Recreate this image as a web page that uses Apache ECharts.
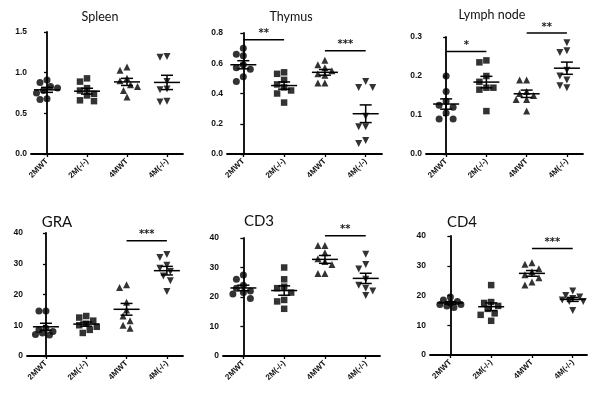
<!DOCTYPE html>
<html>
<head>
<meta charset="utf-8">
<script src="https://cdn.jsdelivr.net/npm/echarts@6/dist/echarts.min.js"></script>
<style>
html,body{margin:0;padding:0;background:#fff;}
#main{width:600px;height:398px;}
</style>
</head>
<body>
<div id="main"></div>
<script>
// groups on the x axis
var groups = ['2MWT', '2M(-/-)', '4MWT', '4M(-/-)'];
var titles = ['Spleen', 'Thymus', 'Lymph node', 'GRA', 'CD3', 'CD4'];

// values per group
var spleen = [
	[0.91, 0.88, 0.83, 0.81, 0.78, 0.75, 0.68, 0.67],
	[0.93, 0.89, 0.81, 0.78, 0.74, 0.72, 0.66, 0.65],
	[1.07, 1.03, 0.93, 0.90, 0.85, 0.83, 0.78, 0.70],
	[1.20, 1.19, 0.89, 0.80, 0.79, 0.64, 0.65]
];
var thymus = [
	[0.70, 0.66, 0.65, 0.59, 0.57, 0.56, 0.51, 0.48],
	[0.54, 0.53, 0.49, 0.46, 0.44, 0.42, 0.40, 0.34],
	[0.62, 0.59, 0.57, 0.55, 0.53, 0.52, 0.47, 0.47],
	[0.48, 0.44, 0.44, 0.25, 0.18, 0.18, 0.09, 0.07]
];
var lymph = [
	[0.20, 0.16, 0.135, 0.125, 0.12, 0.105, 0.09, 0.09],
	[0.24, 0.235, 0.20, 0.185, 0.17, 0.165, 0.17, 0.11],
	[0.19, 0.19, 0.16, 0.155, 0.15, 0.14, 0.14, 0.11],
	[0.285, 0.265, 0.26, 0.215, 0.20, 0.19, 0.175, 0.17]
];
var gra = [
	[14.6, 14.6, 9.0, 8.5, 8.0, 7.5, 7.0, 6.8],
	[13, 12.5, 11.5, 10.5, 10, 9.5, 8.5, 7.5],
	[23.2, 22.3, 17.5, 15, 13, 11.5, 10, 9],
	[33, 32, 29.5, 28.5, 27.5, 26, 24.5, 21]
];
var cd3 = [
	[27.5, 26, 24, 23, 22, 21.5, 21, 19.5],
	[30, 26, 23.5, 23, 21.5, 19, 18.5, 16],
	[37.5, 37.5, 35, 33, 32, 31, 28, 28],
	[34.5, 31, 29.5, 26, 24, 23, 22, 20.5]
];
var cd4 = [
	[19.5, 18.5, 18, 17.5, 17, 17, 16.5, 16],
	[23.5, 17.8, 17.5, 16.5, 15.5, 14, 13.5, 11.5],
	[31, 30.5, 29, 28, 27, 26, 24.5, 23.5],
	[21.5, 20, 19.5, 19, 18.5, 18, 18, 15]
];

// significance bars: [from group, to group, height, stars]
var sigSpleen = [];
var sigThymus = [[0, 1, 0.755, '**'], [2, 3, 0.683, '***']];
var sigLymph = [[0, 1, 0.263, '*'], [2, 3, 0.31, '**']];
var sigGra = [[2, 3, 37.5, '***']];
var sigCd3 = [[2, 3, 40.8, '**']];
var sigCd4 = [[2, 3, 35.8, '***']];

// y axis: max, step, decimals
var yMax = [1.5, 0.8, 0.3, 40, 40, 40];
var yStep = [0.5, 0.2, 0.1, 10, 10, 10];
var yDec = [1, 1, 1, 0, 0, 0];

var allData = [spleen, thymus, lymph, gra, cd3, cd4];
var allSig = [sigSpleen, sigThymus, sigLymph, sigGra, sigCd3, sigCd4];

// layout of each panel (pixels)
var layout = [
	{left: 31, top: 32, width: 152, height: 122, xMin: -0.4, xMax: 3.4, tx: 100, ty: 17, fs: 12.5},
	{left: 227, top: 33, width: 155, height: 121, xMin: -0.4, xMax: 3.4, tx: 291, ty: 17, fs: 12.5},
	{left: 426, top: 37, width: 157, height: 117, xMin: -0.5, xMax: 3.4, tx: 492, ty: 15, fs: 12.5},
	{left: 27, top: 233, width: 156, height: 123, xMin: -0.47, xMax: 3.4, tx: 57, ty: 222, fs: 15},
	{left: 223, top: 238, width: 157, height: 118, xMin: -0.5, xMax: 3.35, tx: 259, ty: 221, fs: 15},
	{left: 430, top: 236, width: 157, height: 119, xMin: -0.5, xMax: 3.35, tx: 462, ty: 222, fs: 15}
];

var symbols = ['circle', 'rect', 'triangle', 'triangle'];
var symRot = [0, 0, 0, 180];
var symSize = [7, 6.5, 7, 7];

function mean(a){
	var s = 0;
	for(var i=0;i<a.length;i++) s += a[i];
	return s / a.length;
}
function sem(a){
	var m = mean(a), s = 0;
	for(var i=0;i<a.length;i++) s += (a[i]-m)*(a[i]-m);
	return Math.sqrt(s/(a.length-1)) / Math.sqrt(a.length);
}
// simple beeswarm so points with close values spread sideways
function swarm(vals, pxY, pxX){
	var order = vals.map(function(v, i){ return i; }).sort(function(a, b){ return vals[b]-vals[a]; });
	var placed = [], offs = [];
	var cands = [0, -1, 1, -2, 2, -3, 3];
	order.forEach(function(i){
		var y = vals[i]*pxY, x = 0, best = 0, bestD = -1;
		for(var c=0;c<cands.length;c++){
			x = cands[c]*3.5;
			var d = placed.reduce(function(m, p){
				return Math.min(m, Math.sqrt((p[0]-x)*(p[0]-x)+(p[1]-y)*(p[1]-y)));
			}, 99);
			if(d >= 7){ best = x; bestD = d; break; }
			if(d > bestD){ best = x; bestD = d; }
		}
		placed.push([best, y]);
		offs[i] = best / pxX;
	});
	return offs;
}

var grids = [], xAxes = [], yAxes = [], series = [], graphics = [];

layout.forEach(function(L, p){
	grids.push({left: L.left, top: L.top, width: L.width, height: L.height});
	xAxes.push({
		type: 'value', gridIndex: p, min: L.xMin, max: L.xMax,
		splitLine: {show: false},
		axisLine: {show: true, lineStyle: {color: '#000', width: 1.8}},
		axisTick: {show: true, length: 3, customValues: [0, 1, 2, 3], lineStyle: {color: '#000', width: 1.3}},
		axisLabel: {
			customValues: [0, 1, 2, 3], rotate: 45, margin: 6,
			fontSize: 8, fontFamily: 'Liberation Sans', fontWeight: 'bold', color: '#111',
			formatter: function(v){ return groups[Math.round(v)]; }
		}
	});
	yAxes.push({
		type: 'value', gridIndex: p, min: 0, max: yMax[p], interval: yStep[p],
		splitLine: {show: false},
		axisLine: {show: true, lineStyle: {color: '#000', width: 1.8}},
		axisTick: {show: true, length: 3, lineStyle: {color: '#000', width: 1.3}},
		axisLabel: {
			margin: 4, fontSize: 8.5, fontFamily: 'Liberation Sans', fontWeight: 'bold', color: '#111',
			formatter: function(v){ return v.toFixed(yDec[p]); }
		}
	});

	var data = allData[p];
	var pxY = L.height / yMax[p];
	var pxX = L.width / (L.xMax - L.xMin);
	var bars = [];
	data.forEach(function(vals, g){
		var offs = swarm(vals, pxY, pxX);
		series.push({
			type: 'scatter', xAxisIndex: p, yAxisIndex: p,
			symbol: symbols[g], symbolRotate: symRot[g], symbolSize: symSize[g],
			itemStyle: {color: '#000'},
			silent: true,
			data: vals.map(function(v, i){ return [g + offs[i], v]; })
		});
		bars.push([g, mean(vals), sem(vals)]);
	});

	// mean +/- SEM
	series.push({
		type: 'custom', xAxisIndex: p, yAxisIndex: p, silent: true, z: 5,
		data: bars,
		renderItem: function(params, api){
			var c = api.coord([api.value(0), api.value(1)]);
			var t = api.coord([api.value(0), api.value(1) + api.value(2)]);
			var b = api.coord([api.value(0), api.value(1) - api.value(2)]);
			var st = {stroke: '#000', lineWidth: 1.5};
			return {type: 'group', children: [
				{type: 'line', shape: {x1: c[0]-13, y1: c[1], x2: c[0]+13, y2: c[1]}, style: st},
				{type: 'line', shape: {x1: c[0], y1: t[1], x2: c[0], y2: b[1]}, style: st},
				{type: 'line', shape: {x1: c[0]-6, y1: t[1], x2: c[0]+6, y2: t[1]}, style: st},
				{type: 'line', shape: {x1: c[0]-6, y1: b[1], x2: c[0]+6, y2: b[1]}, style: st}
			]};
		}
	});

	// significance bars
	var sig = allSig[p];
	if(sig.length){
		series.push({
			type: 'custom', xAxisIndex: p, yAxisIndex: p, silent: true, clip: false,
			data: sig.map(function(s){ return [s[0], s[1], s[2]]; }),
			renderItem: function(params, api){
				var a = api.coord([api.value(0), api.value(2)]);
				var b = api.coord([api.value(1), api.value(2)]);
				return {type: 'group', children: [
					{type: 'line', shape: {x1: a[0], y1: a[1], x2: b[0], y2: b[1]}, style: {stroke: '#000', lineWidth: 1.5}},
					{type: 'text', x: (a[0]+b[0])/2, y: a[1]-1, style: {
						text: sig[params.dataIndex][3], align: 'center', verticalAlign: 'bottom',
						font: 'bold 10px "DejaVu Sans"', fill: '#222'
					}}
				]};
			}
		});
	}

	graphics.push({
		type: 'text', x: L.tx, y: L.ty,
		style: {text: titles[p], align: 'center', verticalAlign: 'middle', font: L.fs + 'px Lato', fill: '#111'}
	});
});

var chart = echarts.init(document.getElementById('main'));
chart.setOption({
	animation: false,
	backgroundColor: '#fff',
	grid: grids,
	xAxis: xAxes,
	yAxis: yAxes,
	series: series,
	graphic: graphics
});
</script>
</body>
</html>
